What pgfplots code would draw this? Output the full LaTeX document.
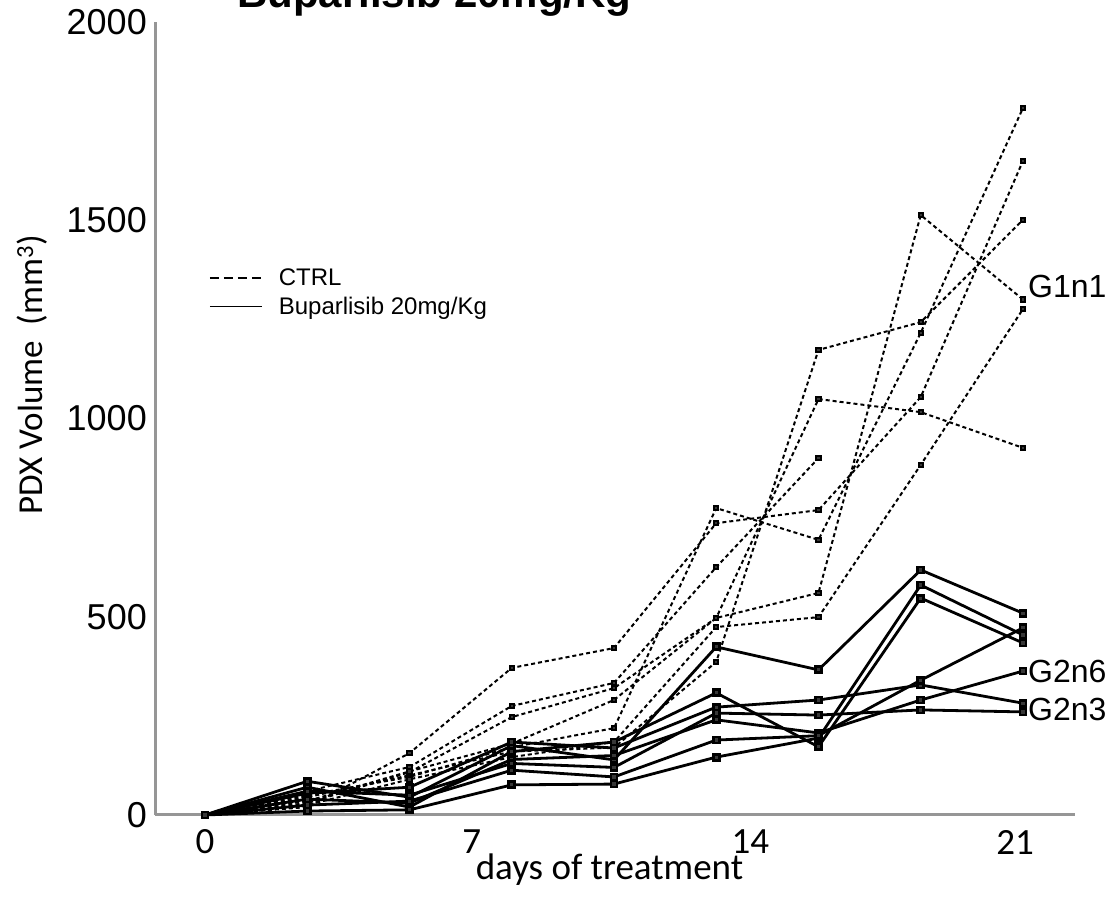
\documentclass[border=0pt]{standalone}
\usepackage{pgfplots}
\pgfplotsset{compat=1.18}
\usepackage{pgfplotstable}
\usepackage{fontspec}
\setmainfont{Liberation Sans}
\newfontfamily\carlito{Carlito}
\definecolor{axgray}{RGB}{150,150,150}
\definecolor{mk}{RGB}{55,55,55}

\pgfplotstableread{
day    c1   c2   c3   c4   c5   c6   c7
0      0    0    0    0    0    0    0
2.625  45   30   60   20   50   35   25
5.25   100  108  121  156  96   110  90
7.875  160  247  275  371  171  180  146
10.5   170  320  333  421  219  290  184
13.125 386  497  625  736  774  497  474
15.75  1173 1049 900  769  694  560  499
18.375 1243 1016 nan  1054 1216 1513 883
21     1501 926  nan  1650 1783 1300 1276
}\ctrl

\pgfplotstableread{
day    s1   s2   s3   s4   s5   s6   s7
0      0    0    0    0    0    0    0
2.625  85   70   10   55   40   60   25
5.25   45   20   13   70   30   50   35
7.875  175  160  76   184  140  130  113
10.5   139  184  78   169  150  120  96
13.125 424  308  146  272  240  257  189
15.75  366  172  194  290  207  252  200
18.375 618  547  580  328  290  265  340
21     509  434  454  282  363  260  472
}\trt

\pgfplotsset{
  ctrlstyle/.style={black, line width=2pt, dash pattern=on 4pt off 3pt,
    mark=square*, mark size=2.2pt, mark options={solid, fill=mk, draw=none}},
  trtstyle/.style={black, line width=2.8pt,
    mark=square*, mark size=3pt, mark options={solid, fill=mk, draw=none}},
}

\begin{document}
\begin{tikzpicture}
\begin{axis}[
  at={(155pt,84pt)}, anchor=south west,
  width=920pt, height=793pt, scale only axis,
  xmin=-1.284, xmax=22.336, ymin=0, ymax=2000,
  axis lines=left,
  axis line style={-, draw=axgray, line width=3pt},
  major tick length=0pt,
  xtick={0,6.85,14,20.8}, xticklabels={0,7,14,21},
  ytick={0,500,1000,1500,2000},
  /pgf/number format/assume math mode=true,
  /pgf/number format/1000 sep={},
  yticklabel style={font=\fontsize{36}{40}\selectfont, anchor=east, inner sep=0pt, xshift=-8pt},
  xticklabel style={font=\carlito\fontsize{37}{40}\selectfont, anchor=center, inner sep=0pt, yshift=-27pt},
  xlabel={days of treatment},
  ylabel={PDX Volume\ \ (mm\textsuperscript{3})},
  every axis x label/.style={at={(axis description cs:0.494,-0.069)}, anchor=center, font=\carlito\fontsize{37}{40}\selectfont},
  every axis y label/.style={at={(axis description cs:-0.134,0.555)}, rotate=90, anchor=center, font=\carlito\fontsize{35}{40}\selectfont},
  clip=false,
  unbounded coords=jump,
  legend style={at={(axis cs:0.1,1378)}, anchor=north west, draw=none, fill=none,
    inner sep=0pt, column sep=16pt, row sep=10pt,
    font=\fontsize{24}{27}\selectfont, nodes={inner sep=0pt}},
  legend cell align=left,
  legend image code/.code={\draw[#1] (0pt,0pt) -- (52pt,0pt);},
]
\addlegendimage{black, line width=1.7pt, dash pattern=on 9pt off 5pt}
\addlegendentry{CTRL}
\addlegendimage{black, line width=1.7pt}
\addlegendentry{Buparlisib 20mg/Kg}

\addplot[ctrlstyle, forget plot] table[x=day, y=c1] {\ctrl};
\addplot[ctrlstyle, forget plot] table[x=day, y=c2] {\ctrl};
\addplot[ctrlstyle, forget plot] table[x=day, y=c3] {\ctrl};
\addplot[ctrlstyle, forget plot] table[x=day, y=c4] {\ctrl};
\addplot[ctrlstyle, forget plot] table[x=day, y=c5] {\ctrl};
\addplot[ctrlstyle, forget plot] table[x=day, y=c6] {\ctrl};
\addplot[ctrlstyle, forget plot] table[x=day, y=c7] {\ctrl};

\addplot[trtstyle, forget plot] table[x=day, y=s1] {\trt};
\addplot[trtstyle, forget plot] table[x=day, y=s2] {\trt};
\addplot[trtstyle, forget plot] table[x=day, y=s3] {\trt};
\addplot[trtstyle, forget plot] table[x=day, y=s4] {\trt};
\addplot[trtstyle, forget plot] table[x=day, y=s5] {\trt};
\addplot[trtstyle, forget plot] table[x=day, y=s6] {\trt};
\addplot[trtstyle, forget plot] table[x=day, y=s7] {\trt};

\node[anchor=west, inner sep=0pt, font=\fontsize{32}{36}\selectfont] at (axis cs:21.13,1332) {G1n1};
\node[anchor=west, inner sep=0pt, font=\fontsize{32}{36}\selectfont] at (axis cs:21.13,361) {G2n6};
\node[anchor=west, inner sep=0pt, font=\fontsize{32}{36}\selectfont] at (axis cs:21.13,265) {G2n3};
\end{axis}
\node[anchor=base west, inner sep=0pt, font=\bfseries\fontsize{42}{46}\selectfont] at (237pt,891pt) {Buparlisib 20mg/Kg};
\pgfresetboundingbox
\useasboundingbox (0,0) rectangle (1116pt,899pt);
\end{tikzpicture}
\end{document}
